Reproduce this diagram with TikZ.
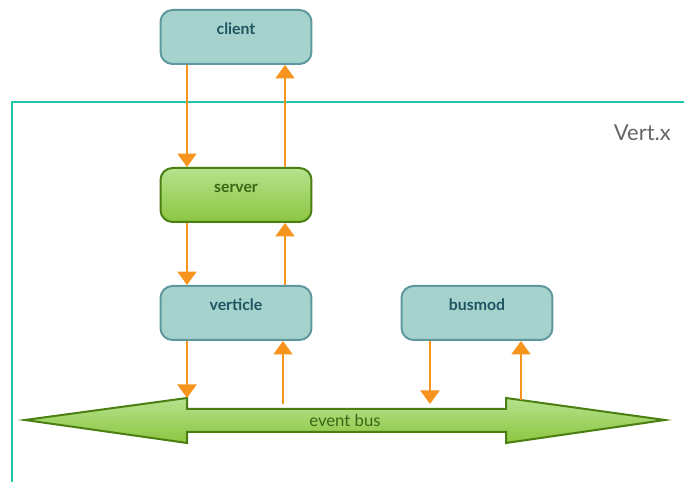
\documentclass[tikz,border=0pt]{standalone}
\usepackage{fontspec}
\setmainfont{Lato}
\usetikzlibrary{arrows.meta}
\definecolor{tealfill}{HTML}{A6D2CD}
\definecolor{tealline}{HTML}{5E979E}
\definecolor{tealtext}{HTML}{1D5560}
\definecolor{grtop}{HTML}{B5E28E}
\definecolor{grbot}{HTML}{8CC540}
\definecolor{grline}{HTML}{4A7F12}
\definecolor{grtext}{HTML}{3A6614}
\definecolor{orng}{HTML}{F7941D}
\definecolor{frm}{HTML}{1FC8A8}
\tikzset{
	box/.style={draw=tealline, fill=tealfill, line width=0.04cm, rounded corners=0.24cm,
		minimum width=3.02cm, minimum height=1.08cm, text height=0.25cm, text depth=0.35cm,
		font=\fontsize{9}{11}\selectfont\bfseries, text=tealtext},
	srv/.style={box, draw=grline, top color=grtop, bottom color=grbot, text=grtext},
	ar/.style={orng, line width=0.045cm, -{Triangle[width=0.38cm, length=0.27cm]}},
	frame/.style={frm, line width=0.045cm},
	bus/.style={draw=grline, line width=0.04cm, top color=grtop, bottom color=grbot},
}
\begin{document}
\begin{tikzpicture}[x=0.02cm, y=-0.02cm]
	\useasboundingbox (0,0) rectangle (684,482);

	\draw [frame] (12,482) |- (684,102);
	\node [anchor=east, text=black!60, font=\fontsize{12.5}{14}\selectfont] (vertx) at (677,133) {Vert.x};

	\draw [bus] (25,420) -- (187,398) -- (187,409) -- (506,409) -- (506,398) -- (665,420)
		-- (506,443) -- (506,432) -- (187,432) -- (187,443) -- cycle;
	\node [text=grtext, font=\fontsize{9.5}{11}\selectfont] (bus) at (345,420) {event bus};

	\node [box] (client) at (236,37) {client};
	\node [srv] (server) at (236,195) {server};
	\node [box] (verticle) at (236,313) {verticle};
	\node [box] (busmod) at (477,313) {busmod};

	\coordinate (l) at (187,0);
	\coordinate (r) at (285,0);
	\coordinate (b1) at (187,398);
	\coordinate (b2) at (283,404);
	\coordinate (b3) at (430,404);
	\coordinate (b4) at (521,400);

	\draw [ar] (client.south -| l) -- (server.north -| l);
	\draw [ar] (server.north -| r) -- (client.south -| r);
	\draw [ar] (server.south -| l) -- (verticle.north -| l);
	\draw [ar] (verticle.north -| r) -- (server.south -| r);
	\draw [ar] (verticle.south -| b1) -- (b1);
	\draw [ar] (b2) -- (verticle.south -| b2);
	\draw [ar] (busmod.south -| b3) -- (b3);
	\draw [ar] (b4) -- (busmod.south -| b4);
\end{tikzpicture}
\end{document}
